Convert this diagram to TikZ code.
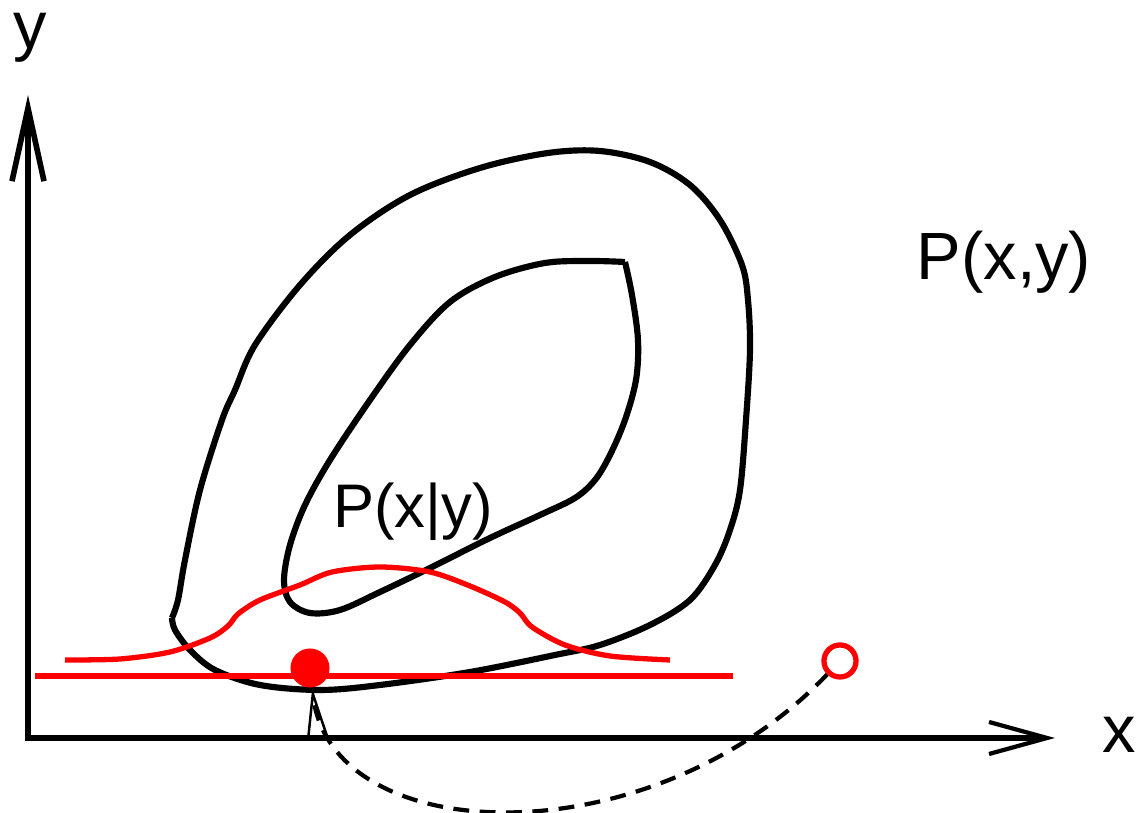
\documentclass[tikz,border=0pt]{standalone}
\usepackage{fontspec}
\setmainfont{Liberation Sans}
\usetikzlibrary{arrows.meta}
\definecolor{CondClr}{rgb}{1,0,0}

\begin{document}
\begin{tikzpicture}[x=0.01cm,y=-0.01cm,
  axis/.style={line width=1.6pt,color=black},
  contour/.style={line width=1.75pt,color=black,line join=round},
  cond/.style={line width=1.5pt,color=CondClr},
  lbl/.style={font=\fontsize{19}{22}\selectfont,inner sep=0pt},
  dashline/.style={line width=1.2pt,dash pattern=on 4.5pt off 3pt}]
\useasboundingbox (0,0) rectangle (1141,813);

\coordinate (O) at (28,738);
\coordinate (ytip) at (28,95);
\coordinate (xtip) at (1055,738);

\draw[axis,-{Straight Barb[length=7.3mm,width=3.2mm,line width=1.6pt]}] (28,740) -- (ytip);
\draw[axis,-{Straight Barb[length=5.8mm,width=3.2mm,line width=1.2pt]}] (25,738) -- (xtip);

\node[lbl] (ylbl) at (30,38) {y};
\node[lbl] (xlbl) at (1119,735) {x};

\draw[contour] plot[smooth,tension=0.55] coordinates {(172,618) (178,600) (185,560) (200,490)
  (222,420) (235,390) (255,345) (300,285) (350,235) (410,195) (480,168) (548,153) (600,151)
  (650,162) (690,185) (720,220) (742,265) (748,300) (750,350) (746,420) (740,490) (730,530)
  (715,565) (690,600) (650,625) (600,645) (555,655) (470,672) (380,685) (320,690) (260,685)
  (215,670) (190,650) (175,630) (172,618)};

\draw[contour] plot[smooth,tension=0.55] coordinates {(625,262) (632,295) (638,340) (636,380)
  (625,420) (610,455) (595,480) (575,498) (540,515) (490,538) (430,568) (380,592) (340,610)
  (310,613) (290,602) (284,580) (290,545) (305,505) (330,460) (370,400) (410,345) (450,302)
  (495,277) (545,263) (590,261) (625,262)};

\draw[cond] plot[smooth,tension=0.5] coordinates {(65,660) (120,659) (170,652) (210,638)
  (228,626) (238,614) (260,600) (300,585) (332,572) (380,567) (430,572) (470,586) (505,602)
  (520,613) (532,627) (565,645) (610,656) (670,660)};

\draw[cond] (35,676) -- (733,676);

\node[circle,fill=CondClr,inner sep=0pt,minimum size=3.9mm] (dot) at (310,668) {};
\node[circle,draw=CondClr,line width=1.5pt,inner sep=0pt,minimum size=3.2mm] (ring) at (840,661) {};

\draw[dashline,-{Straight Barb[length=4.6mm,width=2mm,line width=0.7pt]}] (ring)
  .. controls (650,860) and (330,850) .. (dot);

\node[lbl] (joint) at (1004,262) {P(x,y)};
\node[lbl,font=\fontsize{17.5}{21}\selectfont] (condlbl) at (413,512) {P(x|y)};

\end{tikzpicture}
\end{document}
